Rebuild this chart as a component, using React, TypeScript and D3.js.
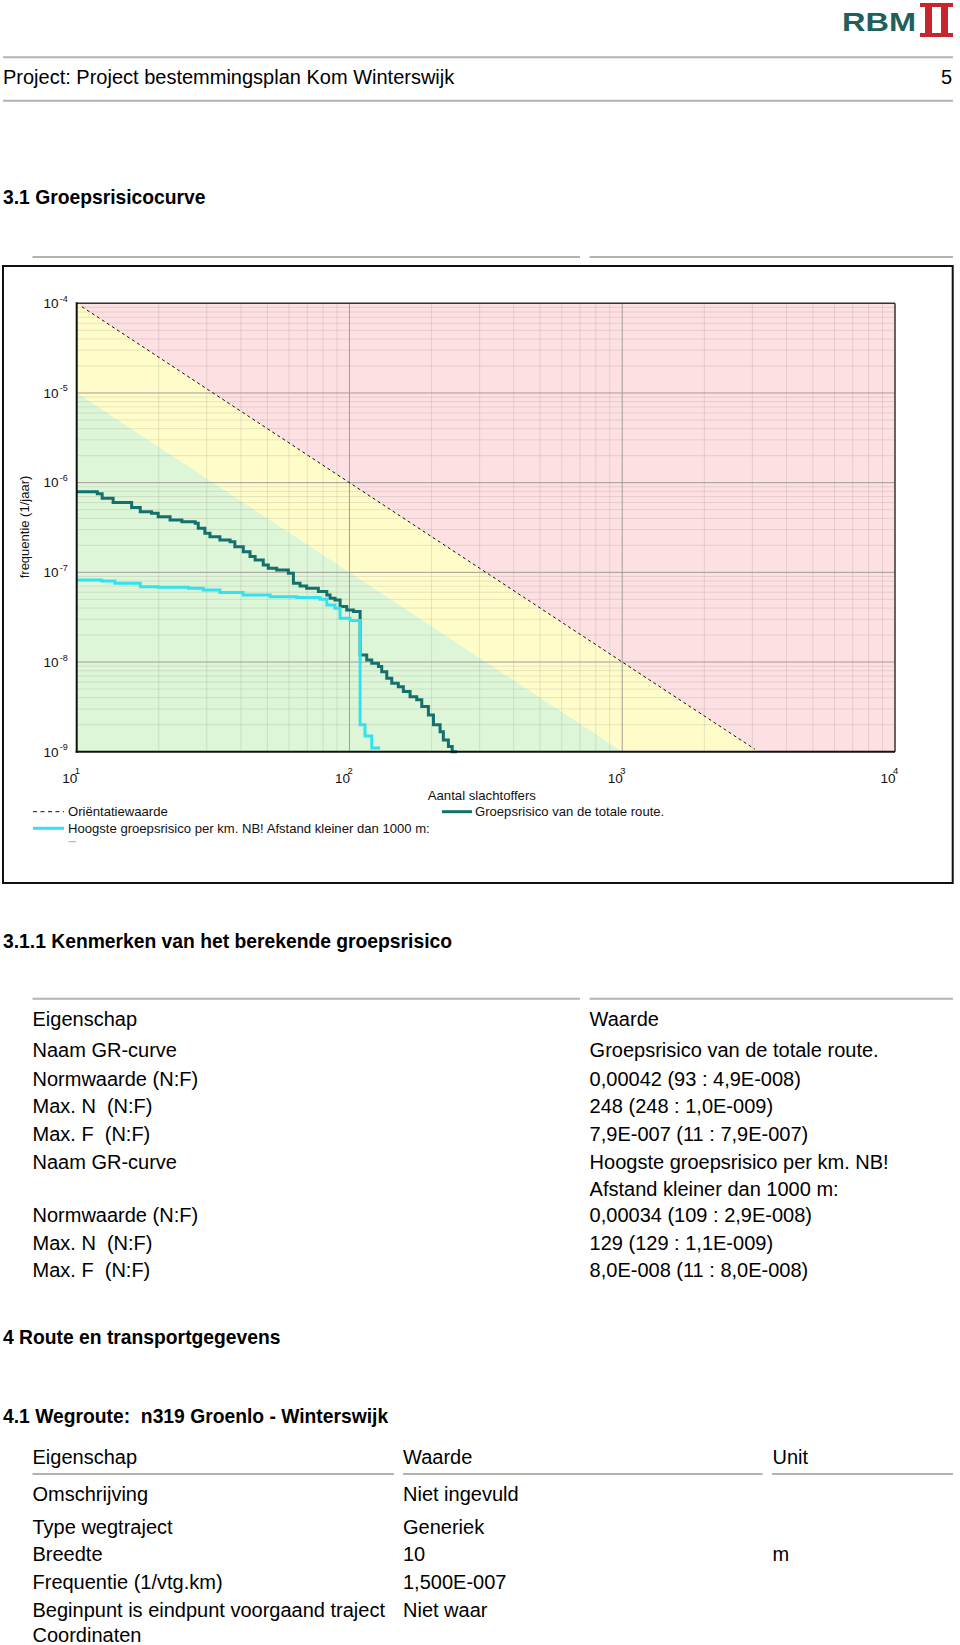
import React from "react";
import * as d3 from "d3";

// ---- data ----
const xDecades = [1, 2, 3, 4];
const yDecades = [-4, -5, -6, -7, -8, -9];

// Groepsrisico van de totale route (step curve, N : F)
const tealN = [10, 11.9, 12.4, 13.6, 15.9, 17.1, 18.8, 19.9, 22.0, 24.3, 27.2, 27.9, 29.5, 30.8, 33.5, 36.5, 38.0, 40.8, 43.2, 45.1, 48.3, 50.4, 54.1, 59.7, 62.3, 65.9, 69.7, 76.9, 82.6, 84.9, 88.5, 92.4, 97.7, 103.4, 109.4, 115.7, 120.7, 127.7, 131.3, 137, 142.9, 151, 157.6, 166.8, 176.4, 184.1, 194.7, 203.2, 214.9, 220.9, 230.5, 238];
const tealF = [7.9e-7, 7.5e-7, 6.7e-7, 6.0e-7, 5.3e-7, 4.75e-7, 4.56e-7, 4.18e-7, 3.84e-7, 3.67e-7, 3.52e-7, 3.1e-7, 2.73e-7, 2.5e-7, 2.3e-7, 2.2e-7, 1.93e-7, 1.7e-7, 1.5e-7, 1.37e-7, 1.21e-7, 1.11e-7, 1.06e-7, 9.8e-8, 7.55e-8, 7.05e-8, 6.65e-8, 6.1e-8, 5.6e-8, 5.14e-8, 4.92e-8, 4.15e-8, 3.81e-8, 3.65e-8, 1.2e-8, 1.05e-8, 9.7e-9, 8.9e-9, 7.8e-9, 6.6e-9, 5.8e-9, 5.3e-9, 4.7e-9, 4.1e-9, 3.8e-9, 3.2e-9, 2.57e-9, 2.0e-9, 1.67e-9, 1.35e-9, 1.14e-9, 1.0e-9];
const tealEndN = 248;

// Hoogste groepsrisico per km
const cyanN = [10, 12.35, 13.8, 17.1, 19.9, 25.7, 29.1, 33.5, 40.8, 51.2, 64.1, 78.0, 82.6, 88.5, 92.4, 100.5, 109.4, 114, 120.7];
const cyanF = [8.2e-8, 8.0e-8, 7.55e-8, 6.9e-8, 6.8e-8, 6.65e-8, 6.37e-8, 5.95e-8, 5.6e-8, 5.36e-8, 5.23e-8, 5.0e-8, 4.33e-8, 3.98e-8, 3.08e-8, 2.9e-8, 2.0e-9, 1.5e-9, 1.1e-9];
const cyanEndN = 129.5;

const kenmerkenLabels = ["Naam GR-curve", "Normwaarde (N:F)", "Max. N  (N:F)", "Max. F  (N:F)", "Naam GR-curve", "", "Normwaarde (N:F)", "Max. N  (N:F)", "Max. F  (N:F)"];
const kenmerkenValues = ["Groepsrisico van de totale route.", "0,00042 (93 : 4,9E-008)", "248 (248 : 1,0E-009)", "7,9E-007 (11 : 7,9E-007)", "Hoogste groepsrisico per km. NB!", "Afstand kleiner dan 1000 m:", "0,00034 (109 : 2,9E-008)", "129 (129 : 1,1E-009)", "8,0E-008 (11 : 8,0E-008)"];
const kenmerkenBaselines = [1057.3, 1085.6, 1112.9, 1141.2, 1169.3, 1195.5, 1221.7, 1250, 1276.7];

const routeLabels = ["Omschrijving", "Type wegtraject", "Breedte", "Frequentie (1/vtg.km)", "Beginpunt is eindpunt voorgaand traject", "Coordinaten"];
const routeValues = ["Niet ingevuld", "Generiek", "10", "1,500E-007", "Niet waar", ""];
const routeUnits = ["", "", "m", "", "", ""];
const routeBaselines = [1501, 1533.6, 1561, 1589, 1616.5, 1641.5];

const F = "'Liberation Sans', Arial, sans-serif";
const LINE = "#b4b4aa";
const HB = 19.3;

export default function App() {
  const x = d3.scaleLog().domain([10, 10000]).range([76.7, 895]);
  const y = d3.scaleLog().domain([1e-9, 1e-4]).range([751.7, 303.3]);
  const X0 = x(10), X1 = x(10000), Y0 = y(1e-4), Y1 = y(1e-9);

  const minorX: number[] = [];
  [1, 2, 3].forEach((d) => { for (let m = 2; m <= 9; m++) minorX.push(m * Math.pow(10, d)); });
  const minorY: number[] = [];
  [-9, -8, -7, -6, -5].forEach((d) => { for (let m = 2; m <= 9; m++) minorY.push(m * Math.pow(10, d)); });

  const poly = (pts: [number, number][]) => pts.map((p) => `${x(p[0])},${y(p[1])}`).join(" ");
  const orientEnd = Math.sqrt(1e-2 / 1e-9);
  const yellowPts: [number, number][] = [[10, 1e-4], [orientEnd, 1e-9], [10, 1e-9]];
  const greenPts: [number, number][] = [[10, 1e-5], [1000, 1e-9], [10, 1e-9]];

  const stepLine = d3.line<[number, number]>().x((d) => x(d[0])).y((d) => y(d[1])).curve(d3.curveStepAfter);
  const tealPts: [number, number][] = tealN.map((n, i) => [n, tealF[i]] as [number, number]).concat([[tealEndN, tealF[tealF.length - 1]]]);
  const cyanPts: [number, number][] = cyanN.map((n, i) => [n, cyanF[i]] as [number, number]).concat([[cyanEndN, cyanF[cyanF.length - 1]]]);

  return (
    <svg width={960} height={1645} style={{ position: "absolute", left: 0, top: 0, display: "block", background: "#fff" }} fontFamily={F}>
      {/* header */}
      <text x={842} y={31} fontSize={26} fontWeight="bold" fill="#1f5f5c" textLength={74} lengthAdjust="spacingAndGlyphs">RBM</text>
      <g fill="#c8262c">
        <rect x={920} y={3} width={33} height={4} />
        <rect x={920} y={33} width={33} height={4} />
        <rect x={925} y={3} width={7} height={34} />
        <rect x={941} y={3} width={7} height={34} />
      </g>
      <line x1={3} x2={953} y1={57.3} y2={57.3} stroke={LINE} strokeWidth={2} />
      <text x={3} y={84} fontSize={20} fill="#000">Project: Project bestemmingsplan Kom Winterswijk</text>
      <text x={952} y={84} fontSize={20} textAnchor="end" fill="#000">5</text>
      <line x1={3} x2={953} y1={100.7} y2={100.7} stroke={LINE} strokeWidth={2} />
      <text x={3} y={204} fontSize={HB} fontWeight="bold">3.1 Groepsrisicocurve</text>
      <line x1={32.5} x2={580} y1={257} y2={257} stroke={LINE} strokeWidth={2} />
      <line x1={589.6} x2={953} y1={257} y2={257} stroke={LINE} strokeWidth={2} />

      {/* chart box */}
      <rect x={3} y={266} width={949.7} height={617} fill="#fff" stroke="#111" strokeWidth={2} />

      {/* zones */}
      <rect x={X0} y={Y0} width={X1 - X0} height={Y1 - Y0} fill="#fde0e2" />
      <polygon points={poly(yellowPts)} fill="#fefdca" />
      <polygon points={poly(greenPts)} fill="#ddf6d8" />

      {/* grid */}
      <g stroke="#8a7f7a" strokeOpacity={0.2} strokeWidth={1}>
        {minorX.map((n) => <line key={"mx" + n} x1={x(n)} x2={x(n)} y1={Y0} y2={Y1} />)}
        {minorY.map((f) => <line key={"my" + f} x1={X0} x2={X1} y1={y(f)} y2={y(f)} />)}
      </g>
      <g stroke="#a39b98" strokeWidth={1}>
        {[100, 1000].map((n) => <line key={"Mx" + n} x1={x(n)} x2={x(n)} y1={Y0} y2={Y1} />)}
        {[1e-5, 1e-6, 1e-7, 1e-8].map((f) => <line key={"My" + f} x1={X0} x2={X1} y1={y(f)} y2={y(f)} />)}
      </g>

      {/* orientation line */}
      <line x1={x(10.45)} y1={y(1e-2 / (10.45 * 10.45))} x2={x(orientEnd * 0.97)} y2={y(1e-2 / Math.pow(orientEnd * 0.97, 2))} stroke="#111" strokeWidth={1} strokeDasharray="3,3" />

      {/* curves */}
      <path d={stepLine(tealPts) || ""} fill="none" stroke="#14706c" strokeWidth={3} />
      <path d={stepLine(cyanPts) || ""} fill="none" stroke="#33e2ee" strokeWidth={3} />

      {/* plot frame */}
      <line x1={X0} x2={X1} y1={Y0} y2={Y0} stroke="#333" strokeWidth={1.5} />
      <line x1={X1} x2={X1} y1={Y0} y2={Y1} stroke="#333" strokeWidth={1.5} />
      <line x1={X0} x2={X0} y1={Y0 - 1} y2={Y1 + 1} stroke="#111" strokeWidth={2} />
      <line x1={X0 - 1} x2={X1} y1={Y1} y2={Y1} stroke="#111" strokeWidth={2} />

      {/* y tick labels */}
      {yDecades.map((d) => (
        <g key={"yl" + d} fill="#111">
          <text x={58.5} y={y(Math.pow(10, d)) + 4.8} fontSize={13.5} textAnchor="end">10</text>
          <text x={59.8} y={y(Math.pow(10, d)) - 1.5} fontSize={9}>{String(d)}</text>
        </g>
      ))}
      {/* x tick labels */}
      {xDecades.map((d) => (
        <g key={"xl" + d} fill="#111">
          <text x={x(Math.pow(10, d)) + 0.5} y={782.7} fontSize={13.5} textAnchor="end">10</text>
          <text x={x(Math.pow(10, d)) - 2} y={774} fontSize={9.5}>{String(d)}</text>
        </g>
      ))}
      <text transform="translate(28.5,527) rotate(-90)" fontSize={13} textAnchor="middle" fill="#111">frequentie (1/jaar)</text>
      <text x={427.7} y={799.8} fontSize={13.2} fill="#111">Aantal slachtoffers</text>

      {/* legend */}
      <line x1={33} x2={64} y1={811.7} y2={811.7} stroke="#111" strokeWidth={1} strokeDasharray="4,3.5" />
      <text x={68} y={816.3} fontSize={13.1} fill="#111">Oriëntatiewaarde</text>
      <line x1={33} x2={64} y1={828.3} y2={828.3} stroke="#33e2ee" strokeWidth={3} />
      <text x={68} y={832.9} fontSize={13.1} fill="#111">Hoogste groepsrisico per km. NB! Afstand kleiner dan 1000 m:</text>
      <line x1={68.5} x2={76} y1={841.7} y2={841.7} stroke="#aaa" strokeWidth={1} />
      <line x1={442} x2={472} y1={811.7} y2={811.7} stroke="#14706c" strokeWidth={3} />
      <text x={475} y={816.3} fontSize={13.1} fill="#111">Groepsrisico van de totale route.</text>

      {/* 3.1.1 */}
      <text x={3} y={948} fontSize={HB} fontWeight="bold">3.1.1 Kenmerken van het berekende groepsrisico</text>
      <line x1={32.5} x2={580} y1={998.7} y2={998.7} stroke={LINE} strokeWidth={2} />
      <line x1={589.6} x2={953} y1={998.7} y2={998.7} stroke={LINE} strokeWidth={2} />
      <text x={32.5} y={1025.6} fontSize={20}>Eigenschap</text>
      <text x={589.6} y={1025.6} fontSize={20}>Waarde</text>
      {kenmerkenLabels.map((l, i) => (
        <text key={"kl" + i} x={32.5} y={kenmerkenBaselines[i]} fontSize={20} style={{ whiteSpace: "pre" }}>{l}</text>
      ))}
      {kenmerkenValues.map((v, i) => (
        <text key={"kv" + i} x={589.6} y={kenmerkenBaselines[i]} fontSize={20}>{v}</text>
      ))}

      {/* 4 */}
      <text x={3} y={1344} fontSize={HB} fontWeight="bold">4 Route en transportgegevens</text>
      <text x={3} y={1423} fontSize={HB} fontWeight="bold" style={{ whiteSpace: "pre" }}>4.1 Wegroute:  n319 Groenlo - Winterswijk</text>
      <text x={32.5} y={1464.4} fontSize={20}>Eigenschap</text>
      <text x={403} y={1464.4} fontSize={20}>Waarde</text>
      <text x={772.5} y={1464.4} fontSize={20}>Unit</text>
      <line x1={32.5} x2={394} y1={1474} y2={1474} stroke={LINE} strokeWidth={2} />
      <line x1={403} x2={762.6} y1={1474} y2={1474} stroke={LINE} strokeWidth={2} />
      <line x1={772} x2={953} y1={1474} y2={1474} stroke={LINE} strokeWidth={2} />
      {routeLabels.map((l, i) => (
        <text key={"rl" + i} x={32.5} y={routeBaselines[i]} fontSize={20}>{l}</text>
      ))}
      {routeValues.map((v, i) => (
        <text key={"rv" + i} x={403} y={routeBaselines[i]} fontSize={20}>{v}</text>
      ))}
      {routeUnits.map((u, i) => (
        <text key={"ru" + i} x={772.5} y={routeBaselines[i]} fontSize={20}>{u}</text>
      ))}
    </svg>
  );
}
